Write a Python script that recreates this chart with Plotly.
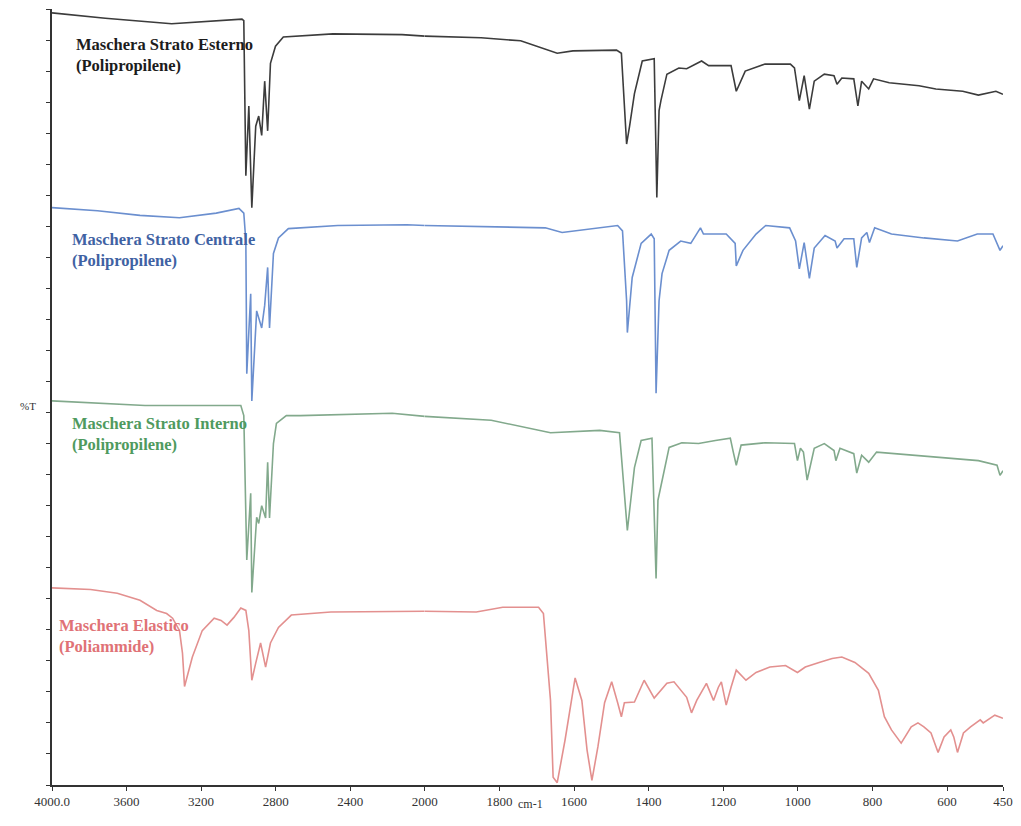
import plotly.graph_objects as go

# ---------------- data (wavenumber cm-1, %T stacked offsets) ----------------
est_wn = [4000, 3714, 3358, 3130, 2981, 2971, 2960, 2944, 2928, 2907, 2891, 2875, 2859, 2843, 2828, 2801, 2759,
          2493, 2122, 2000, 1849, 1743, 1690, 1645, 1603, 1486, 1473, 1459, 1451, 1438, 1417, 1385, 1378, 1372,
          1367, 1351, 1319, 1298, 1258, 1239, 1179, 1165, 1141, 1088, 1020, 1009, 996, 983, 969, 956, 929, 903,
          895, 882, 850, 839, 829, 810, 797, 755, 675, 630, 558, 516, 469, 450]
est_t = [99.5, 98.8, 98.1, 98.5, 98.7, 98.5, 78.5, 87.5, 74.4, 84.9, 86.2, 83.7, 90.7, 84.3, 93.0, 95.2, 96.4,
         96.8, 96.7, 96.5, 96.3, 95.9, 95.0, 94.3, 94.6, 94.7, 94.3, 82.6, 84.9, 89.1, 93.3, 93.6, 75.7, 86.9,
         88.2, 91.6, 92.4, 92.3, 93.3, 92.7, 92.7, 89.4, 92.0, 92.9, 92.9, 92.4, 88.2, 91.4, 87.1, 90.7, 91.6, 91.4,
         90.3, 91.1, 91.0, 87.5, 90.7, 89.7, 91.0, 90.5, 90.1, 89.7, 89.4, 88.9, 89.4, 89.0]

cen_wn = [4000, 3756, 3528, 3316, 3119, 2997, 2971, 2960, 2955, 2934, 2928, 2902, 2875, 2859, 2843, 2833, 2812,
          2785, 2732, 2467, 2096, 2000, 1836, 1677, 1632, 1483, 1470, 1459, 1457, 1444, 1420, 1393, 1385, 1380,
          1372, 1364, 1345, 1314, 1287, 1261, 1253, 1192, 1168, 1165, 1147, 1112, 1086, 1022, 1006, 996, 983, 969,
          956, 927, 900, 895, 876, 850, 842, 829, 815, 808, 794, 749, 662, 572, 519, 477, 458, 450]
cen_t = [74.4, 74.0, 73.4, 73.1, 73.7, 74.3, 73.7, 70.1, 53.0, 63.3, 49.5, 61.1, 58.9, 61.8, 66.7, 58.9, 68.5,
         70.5, 71.7, 72.1, 72.2, 72.1, 71.9, 71.8, 71.2, 72.1, 71.4, 62.4, 58.3, 65.4, 69.8, 71.0, 70.4, 50.5,
         62.4, 65.9, 68.9, 70.1, 69.8, 71.8, 71.0, 71.0, 69.8, 66.9, 68.9, 71.0, 72.1, 71.8, 70.1, 66.5, 69.9, 65.3,
         69.2, 70.8, 70.1, 69.2, 70.4, 70.4, 66.7, 70.5, 71.2, 69.9, 71.8, 71.0, 70.5, 70.1, 71.0, 71.0, 68.9, 69.5]

int_wn = [4000, 3501, 3236, 2987, 2971, 2955, 2934, 2928, 2902, 2891, 2875, 2854, 2843, 2833, 2812, 2796, 2743,
          2668, 2175, 2000, 1822, 1663, 1531, 1478, 1470, 1457, 1438, 1420, 1391, 1380, 1375, 1359, 1345, 1311,
          1266, 1221, 1181, 1173, 1165, 1152, 1088, 1009, 1001, 993, 985, 975, 956, 929, 903, 898, 887, 850, 842,
          829, 810, 789, 691, 604, 516, 466, 458, 450]
int_t = [49.5, 48.9, 48.9, 48.9, 47.6, 29.0, 37.6, 24.8, 34.5, 33.7, 36.0, 34.4, 41.6, 34.4, 44.0, 46.6, 47.6,
         47.6, 47.9, 47.5, 47.0, 45.4, 45.7, 45.4, 40.9, 32.8, 40.9, 44.4, 44.7, 26.6, 36.7, 40.3, 43.5, 44.1,
         44.0, 44.4, 44.7, 42.9, 41.2, 43.8, 44.1, 44.0, 41.8, 43.4, 42.9, 39.3, 43.4, 44.0, 43.1, 41.8, 43.4, 42.7,
         40.2, 42.5, 41.6, 42.9, 42.5, 42.1, 41.8, 41.2, 39.9, 40.5]

ela_wn = [4000, 3793, 3650, 3528, 3438, 3385, 3353, 3316, 3300, 3289, 3247, 3194, 3130, 3093, 3061, 3024, 2987,
          2960, 2944, 2928, 2907, 2881, 2854, 2828, 2785, 2716, 2504, 2042, 2000, 1862, 1791, 1695, 1682, 1671,
          1663, 1656, 1645, 1624, 1597, 1579, 1565, 1552, 1536, 1518, 1499, 1483, 1473, 1465, 1438, 1412, 1385,
          1351, 1332, 1298, 1285, 1271, 1245, 1226, 1213, 1205, 1192, 1179, 1165, 1139, 1112, 1075, 1033, 1001,
          980, 943, 908, 882, 847, 810, 784, 768, 749, 723, 696, 678, 662, 643, 624, 608, 590, 582, 572, 556, 537,
          511, 503, 472, 450]
ela_t = [25.4, 25.2, 24.7, 23.8, 22.5, 22.1, 21.5, 19.9, 17.0, 12.7, 16.5, 19.9, 21.5, 21.2, 20.6, 21.6, 22.8,
         22.5, 19.9, 13.5, 15.7, 18.3, 15.2, 18.3, 20.3, 21.9, 22.3, 22.4, 22.4, 22.3, 22.9, 22.9, 22.1, 15.2,
         10.9, 1.0, 0.3, 5.8, 13.8, 10.9, 4.5, 0.6, 4.9, 10.6, 13.3, 10.6, 8.8, 10.6, 10.7, 13.5, 11.2,
         13.1, 13.3, 11.3, 9.3, 10.9, 13.1, 10.9, 12.6, 13.3, 10.3, 12.6, 14.8, 13.5, 14.5, 15.2, 15.4, 14.5,
         15.2, 15.8, 16.3, 16.5, 15.8, 14.4, 12.2, 8.8, 7.1, 5.4, 7.5, 8.0, 7.5, 6.7, 4.2, 6.2, 7.1, 6.2, 4.2, 6.7,
         7.5, 8.4, 8.0, 9.0, 8.6]

labels = ["Maschera Strato Esterno<br>(Polipropilene)",
          "Maschera Strato Centrale<br>(Polipropilene)",
          "Maschera Strato Interno<br>(Polipropilene)",
          "Maschera Elastico<br>(Poliammide)"]

left_ticks = [4000, 3600, 3200, 2800, 2400, 2000]
left_ticktext = ["4000.0", "3600", "3200", "2800", "2400", "2000"]
right_ticks = [1800, 1600, 1400, 1200, 1000, 800, 600, 450]
right_ticktext = ["1800", "1600", "1400", "1200", "1000", "800", "600", "450"]

# ---------------- styling ----------------
SPLIT = 2000
line_colors = ["#3c3c3c", "#6b8fcf", "#82a98c", "#e3908f"]
text_colors = ["#1c1c1c", "#3f62a3", "#4f9a5e", "#e07276"]
label_pos = [(0.023, 0.941), (0.019, 0.689), (0.019, 0.452), (0.005, 0.192)]
FONT = "Liberation Serif"

fig = go.Figure()
series = [(est_wn, est_t), (cen_wn, cen_t), (int_wn, int_t), (ela_wn, ela_t)]
for (wn, t), col in zip(series, line_colors):
    lx = [w for w in wn if w >= SPLIT]
    ly = [v for w, v in zip(wn, t) if w >= SPLIT]
    rx = [w for w in wn if w <= SPLIT]
    ry = [v for w, v in zip(wn, t) if w <= SPLIT]
    fig.add_trace(go.Scatter(x=lx, y=ly, mode="lines", line=dict(color=col, width=1.6),
                             xaxis="x", yaxis="y", showlegend=False, hoverinfo="skip", cliponaxis=False))
    fig.add_trace(go.Scatter(x=rx, y=ry, mode="lines", line=dict(color=col, width=1.6),
                             xaxis="x2", yaxis="y", showlegend=False, hoverinfo="skip", cliponaxis=False))

axis_common = dict(showline=True, linecolor="#333333", linewidth=1.5, ticks="outside", ticklen=4,
                   tickcolor="#333333", showgrid=False, zeroline=False, automargin=False,
                   ticklabeloverflow="allow",
                   tickfont=dict(family=FONT, size=13, color="#333333"))
DSPLIT = 0.392
# the page body adds an 8px margin, so the figure is sized to fit inside the window without scrolling
fig.update_layout(
    width=1005, height=810,
    margin=dict(l=44, r=10, t=1, b=33),
    paper_bgcolor="white", plot_bgcolor="white",
    xaxis=dict(domain=[0, DSPLIT], range=[4000, 2000], tickvals=left_ticks, ticktext=left_ticktext,
               anchor="y", **axis_common),
    xaxis2=dict(domain=[DSPLIT, 1], range=[2000, 450], tickvals=right_ticks, ticktext=right_ticktext,
                anchor="y", **axis_common),
    yaxis=dict(range=[0, 100], showline=True, linecolor="#333333", linewidth=1.5, ticks="outside",
               ticklen=4, dtick=4, tickcolor="#333333", showticklabels=False, showgrid=False,
               zeroline=False, automargin=False),
)

for text, col, (px, py) in zip(labels, text_colors, label_pos):
    fig.add_annotation(xref="paper", yref="paper", x=px, y=py, xanchor="left", yanchor="middle",
                       align="left", showarrow=False,
                       text="<b>" + text.replace("<br>", "</b><br><b>") + "</b>",
                       font=dict(family=FONT, size=16.5, color=col))

fig.add_annotation(xref="paper", yref="paper", x=-0.036, y=0.489, showarrow=False,
                   text="%T", font=dict(family=FONT, size=11, color="#333333"))
fig.add_annotation(xref="paper", yref="paper", x=0.503, y=-0.036, showarrow=False,
                   text="cm-1", font=dict(family=FONT, size=12, color="#333333"))

fig.write_html("out.html")
